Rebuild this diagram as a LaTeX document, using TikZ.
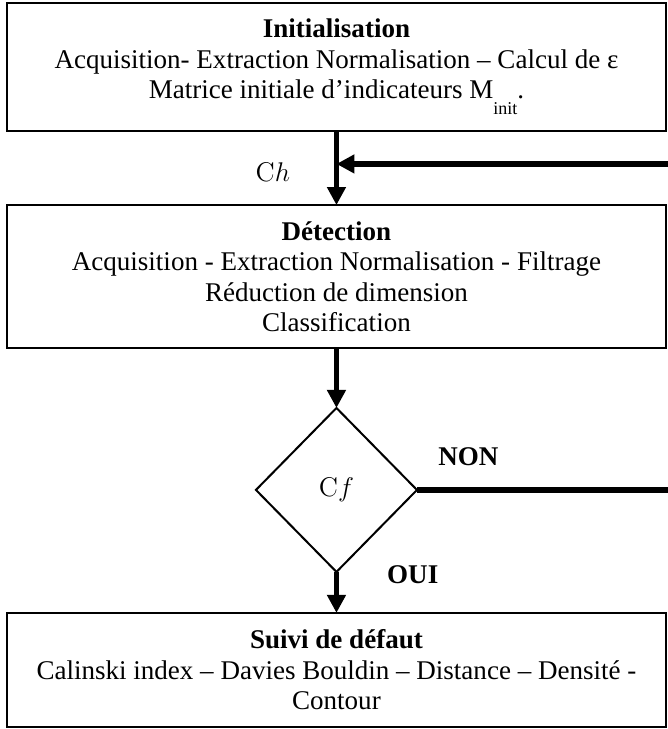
\documentclass[tikz,border=0pt]{standalone}
\usepackage[no-math]{fontspec}
\setmainfont{Liberation Serif}
\usetikzlibrary{arrows.meta,positioning,shapes.geometric}

\begin{document}
\begin{tikzpicture}[
   b/.style={draw,line width=0.9pt,minimum width=292.6pt,inner sep=4pt,outer sep=0pt,align=center,font=\fontsize{12}{13.5}\selectfont},
   d/.style={draw,diamond,line width=0.9pt,minimum width=71.5pt,minimum height=72.8pt,inner sep=0pt,outer sep=0pt,font=\fontsize{12}{13.5}\selectfont},
   a/.style={-{Triangle[width=8pt,length=8pt]},line width=2.6pt},
   l/.style={line width=2.4pt},
   lbl/.style={font=\fontsize{12}{13.5}\selectfont\bfseries}]
  \useasboundingbox (0,0) rectangle (296.6pt,-323.7pt);
  \node[b,minimum height=56.8pt] (init) at (149.4pt,-29.75pt) {\textbf{Initialisation}\\ Acquisition- Extraction Normalisation – Calcul de ε\\ Matrice initiale d’indicateurs M\raisebox{-1.3ex}{\fontsize{8}{9}\selectfont init}.};
  \node[b,minimum height=63.5pt,below=32.9pt of init] (detect) {\textbf{Détection}\\ Acquisition - Extraction Normalisation - Filtrage\\ Réduction de dimension\\ Classification};
  \node[d,below=26.6pt of detect] (cf) {$\mathrm{C}f$};
  \node[b,minimum height=50.6pt,below=18.2pt of cf] (suivi) {\textbf{Suivi de défaut}\\ Calinski index – Davies Bouldin – Distance – Densité -\\ Contour};
  \coordinate (back) at (296.6pt,-72.8pt);
  \coordinate (nonend) at (cf.east -| back);
  \draw[a] (init) -- node[left=16pt,pos=0.55,font=\fontsize{12}{13.5}\selectfont]{$\mathrm{C}h$} (detect);
  \draw[a] (back) -- (back -| init.south);
  \draw[a] (detect) -- (cf);
  \draw[l] (cf.east) -- (nonend);
  \draw[a] (cf) -- (suivi);
  \node[lbl,above right=7pt and 6pt of cf.east] (non) {NON};
  \node[lbl,right=19pt of cf.south,yshift=-1.3pt] (oui) {OUI};
\end{tikzpicture}
\end{document}
